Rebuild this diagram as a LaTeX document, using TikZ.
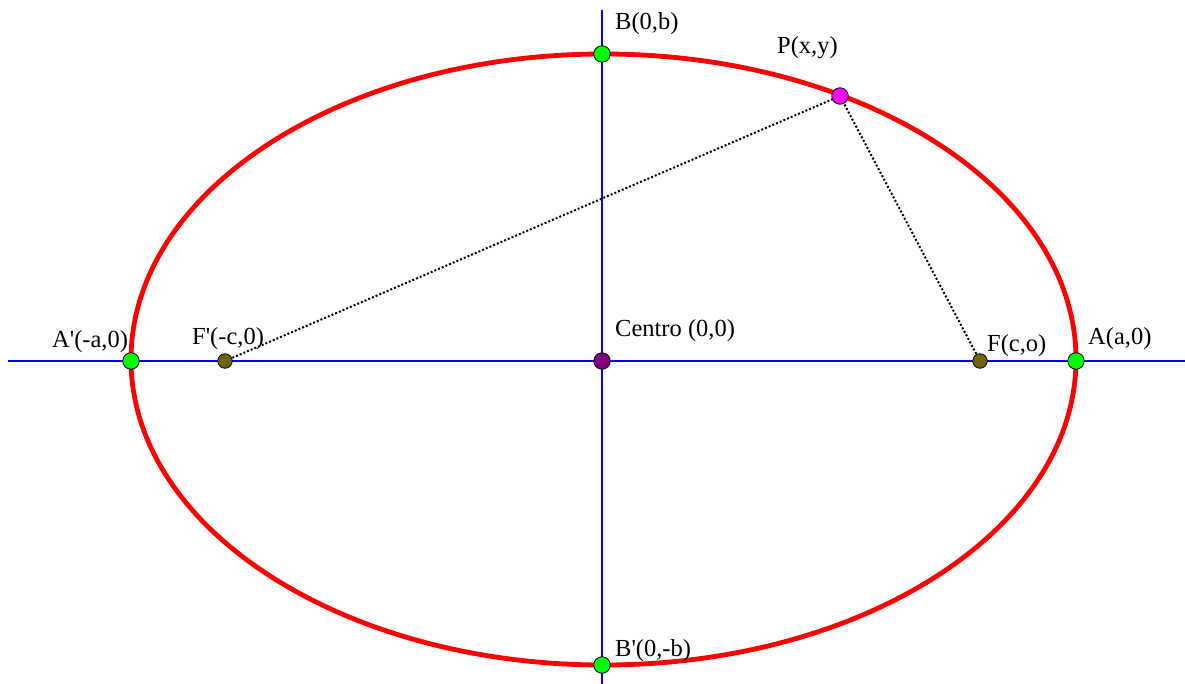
\documentclass[tikz,border=0pt]{standalone}
\usepackage{fontspec}
\setmainfont{Liberation Serif}
\usetikzlibrary{backgrounds}
\definecolor{ptgreen}{HTML}{00FF00}
\definecolor{ptolive}{HTML}{6E6410}
\definecolor{ptpurple}{HTML}{800080}
\definecolor{ptmagenta}{HTML}{FF00FF}
\definecolor{axisblue}{HTML}{0000FF}
\definecolor{curvered}{HTML}{FF0000}
\tikzset{
  ptdot/.style={circle, draw=black, line width=0.8pt, inner sep=0pt, minimum size=16.5pt},
  vertexdot/.style={ptdot, fill=ptgreen},
  focusdot/.style={ptdot, fill=ptolive, minimum size=14.5pt},
  centerdot/.style={ptdot, fill=ptpurple},
  pointdot/.style={ptdot, fill=ptmagenta},
  lab/.style={inner sep=0pt, anchor=base west, font=\fontsize{24.5}{29}\selectfont},
  axisline/.style={axisblue, line width=2.8pt},
  curve/.style={curvered, line width=4.8pt},
  distline/.style={black, line width=2pt, dash pattern=on 2pt off 2pt}
}
\begin{document}
\begin{tikzpicture}[x=1pt, y=-1pt]
\useasboundingbox (0,0) rectangle (1185,684);
% axis end points
\coordinate (xl) at (8,361);
\coordinate (xr) at (1185,361);
\coordinate (yt) at (602,10);
\coordinate (yb) at (602,684);
% points
\node[centerdot] (O) at (602,361) {};
\node[vertexdot] (A) at (1076,361) {};
\node[vertexdot] (Ap) at (131,361) {};
\node[vertexdot] (B) at (602,54) {};
\node[vertexdot] (Bp) at (602,665) {};
\node[focusdot] (F) at (980,361) {};
\node[focusdot] (Fp) at (225,361) {};
\node[pointdot] (P) at (840,96) {};
% labels
\node[lab] (lB) at (615,30) {B(0,b)};
\node[lab] (lP) at (777,54) {P(x,y)};
\node[lab] (lAp) at (52,348) {A\textquotesingle(-a,0)};
\node[lab] (lFp) at (192,344) {F\textquotesingle(-c,0)};
\node[lab] (lO) at (615,336) {Centro (0,0)};
\node[lab] (lF) at (987,351) {F(c,o)};
\node[lab] (lA) at (1088,344) {A(a,0)};
\node[lab] (lBp) at (615,656) {B\textquotesingle(0,-b)};
\begin{scope}[on background layer]
  \fill[white] (0,0) rectangle (1185,684);
  \draw[axisline] (xl) -- (xr);
  \draw[axisline] (yt) -- (yb);
  \draw[curve] (603.5,359.5) ellipse [x radius=472.5, y radius=305.5];
  \draw[distline] (Fp.center) -- (P.center);
  \draw[distline] (F.center) -- (P.center);
\end{scope}
\end{tikzpicture}
\end{document}
